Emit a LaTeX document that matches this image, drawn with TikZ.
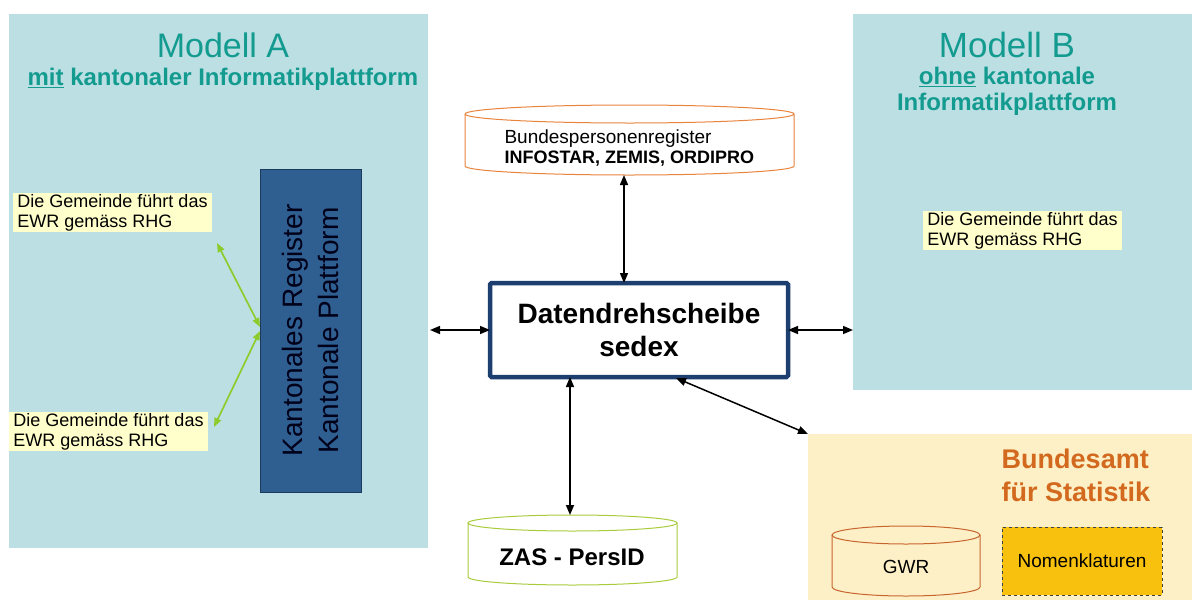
\documentclass[tikz,border=0pt]{standalone}
\usepackage{fontspec}
\setmainfont{Liberation Sans}
\usetikzlibrary{arrows.meta}
\definecolor{modbg}{HTML}{BCDFE4}
\definecolor{teal2}{HTML}{139B8F}
\definecolor{labfill}{HTML}{FFFFCC}
\definecolor{bfsbg}{HTML}{FDF0C6}
\definecolor{nomfill}{HTML}{F8C10E}
\definecolor{ddborder}{HTML}{1D3F70}
\definecolor{kantfill}{HTML}{2F5E91}
\definecolor{kantborder}{HTML}{1C3A5C}
\definecolor{greenarr}{HTML}{8CCC2C}
\definecolor{bprborder}{HTML}{E8843C}
\definecolor{zasborder}{HTML}{A8CC3C}
\definecolor{gwrborder}{HTML}{C8652F}
\definecolor{bfstitle}{HTML}{D2691E}
\newcommand\fs[2]{\fontsize{#1}{#2}\selectfont}
\newcommand\mycyl[7]{%
  \filldraw[draw=#6, fill=#7, line width=1pt] (#1,#3+#5) -- (#1,#4-#5)
    arc[start angle=180, end angle=0, x radius={(#2-#1)/2}, y radius=#5]
    -- (#2,#3+#5)
    arc[start angle=0, end angle=-180, x radius={(#2-#1)/2}, y radius=#5] -- cycle;
  \draw[draw=#6, line width=1pt] (#1,#3+#5)
    arc[start angle=180, end angle=0, x radius={(#2-#1)/2}, y radius=#5];
}
\tikzset{
  box/.style={anchor=north west, inner sep=0pt, outer sep=0pt},
  lab/.style={box, fill=labfill, align=left, minimum width=199pt,
    font=\fs{18}{20}, text=black, minimum height=39pt},
  arr/.style={{Triangle[length=10pt,width=8pt]}-{Triangle[length=10pt,width=8pt]}, line width=1.5pt, black},
  garr/.style={{Triangle[length=9pt,width=7pt]}-{Triangle[length=9pt,width=7pt]}, line width=1.7pt, greenarr},
}
\begin{document}
\begin{tikzpicture}[x=1pt,y=-1pt]
\useasboundingbox (0,0) rectangle (1192,600);
\fill[white] (0,0) rectangle (1192,600);

% Model A
\node[box, fill=modbg, minimum width=419pt, minimum height=534pt] (modA) at (9,14) {};
\node[font=\fs{34}{40}, text=teal2] (titA) at (223,45) {Modell A};
\node[font=\fs{24}{26}\bfseries, text=teal2] (subA) at (223,79) {\underline{mit} kantonaler Informatikplattform};
\node[lab] (lab1) at (13,193) {Die Gemeinde führt das\\EWR gemäss RHG};
\node[lab] (lab2) at (9,412) {Die Gemeinde führt das\\EWR gemäss RHG};
\node[box, fill=kantfill, draw=kantborder, line width=1pt, minimum width=101pt, minimum height=323pt] (kant) at (260,169) {};
\node[rotate=90, align=center, font=\fs{28}{36}, text=black!90!blue] (kanttxt) at (kant.center) {Kantonales Register\\Kantonale Plattform};

% Model B
\node[box, fill=modbg, minimum width=339pt, minimum height=376pt] (modB) at (853,14) {};
\node[font=\fs{35}{40}, text=teal2] (titB) at (1007,45) {Modell B};
\node[font=\fs{24}{26}\bfseries, text=teal2, align=center] (subB) at (1007,91) {\underline{ohne} kantonale\\Informatikplattform};
\node[lab] (lab3) at (923,211) {Die Gemeinde führt das\\EWR gemäss RHG};

% Bundesamt fuer Statistik
\node[box, fill=bfsbg, minimum width=384pt, minimum height=166pt] (bfs) at (808,434) {};
\node[font=\fs{27}{33}\bfseries, text=bfstitle, align=left] (bfstxt) at (1076,475) {Bundesamt\\für Statistik};
\mycyl{832}{980}{526}{596}{9}{gwrborder}{bfsbg}
\node[font=\fs{19}{22}] (gwr) at (906,567) {GWR};
\node[box, fill=nomfill, draw=black!75, dashed, line width=1pt, minimum width=160pt, minimum height=68pt] (nom) at (1002,527) {};
\node[font=\fs{19}{22}] (nomtxt) at (nom.center) {Nomenklaturen};

% Bundespersonenregister
\mycyl{465}{794}{105}{175}{9}{bprborder}{white}
\node[box, minimum width=329pt, minimum height=70pt] (bpr) at (465,105) {};
\node[anchor=west, align=left, font=\fs{18}{20}] (bprtxt) at (501,148) {\fs{19}{20}Bundespersonenregister\\\bfseries INFOSTAR, ZEMIS, ORDIPRO};

% ZAS
\mycyl{468}{677}{515}{585}{8}{zasborder}{white}
\node[box, minimum width=209pt, minimum height=70pt] (zas) at (468,515) {};
\node[font=\fs{24}{28}\bfseries] (zastxt) at (572,557) {ZAS - PersID};

% Datendrehscheibe
\node[box, fill=white, draw=ddborder, line width=4.5pt, rounded corners=1.5pt, minimum width=298pt, minimum height=94pt] (dd) at (490,283) {};
\node[font=\fs{28}{33}\bfseries, align=center] (ddtxt) at (dd.center) {Datendrehscheibe\\sedex};

% connectors
\coordinate (bprB) at (624,175);
\draw[arr] (bprB) -- (bprB |- dd.north);
\draw[arr] ([xshift=2pt]modA.east |- dd.center) -- (dd.west);
\draw[arr] (dd.east) -- (modB.west |- dd.center);
\coordinate (ddB) at (570,377);
\draw[arr] (ddB) -- (ddB |- zas.north);
\coordinate (ddBR) at (676,378);
\draw[arr] (ddBR) -- (bfs.north west);

\coordinate (g1) at (217,243);
\coordinate (ka) at (260,327);
\coordinate (kb) at (260,331);
\coordinate (g2) at (214,427);
\draw[garr] (g1) -- (ka);
\draw[garr] (kb) -- (g2);
\end{tikzpicture}
\end{document}
